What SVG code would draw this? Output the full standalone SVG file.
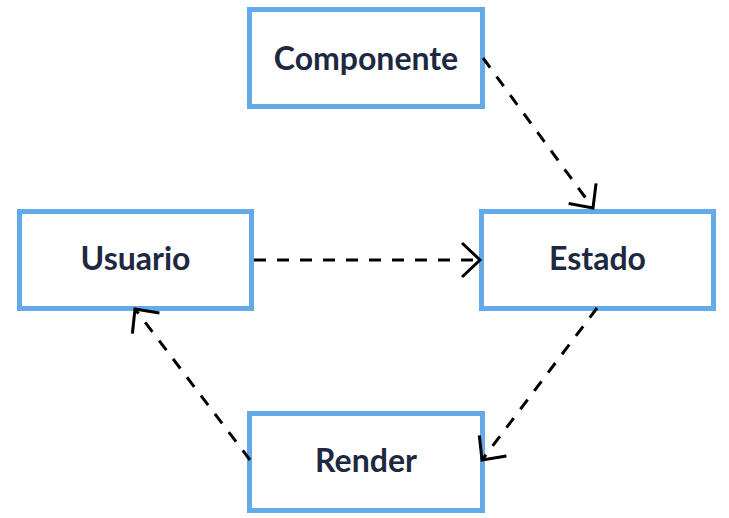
<svg xmlns="http://www.w3.org/2000/svg" width="729" height="518" viewBox="0 0 729 518">
  <style>
    .box { fill: #ffffff; stroke: #64aae8; stroke-width: 5; }
    .label { font-family: Lato, "Liberation Sans", sans-serif; font-weight: 700; font-size: 32px; fill: #1d2841; text-anchor: middle; }
    .edge { fill: none; stroke: #000000; stroke-width: 3; stroke-dasharray: 12 11; }
  </style>
  <defs>
    <marker id="arrow" markerUnits="userSpaceOnUse" markerWidth="40" markerHeight="40" viewBox="-22 -20 24 40" refX="0" refY="0" orient="auto">
      <path d="M -18 -17 L 0 0 L -18 17" fill="none" stroke="#000000" stroke-width="3"/>
    </marker>
  </defs>
  <rect width="729" height="518" fill="#ffffff"/>

  <g id="componente">
    <rect class="box" x="249.5" y="9.5" width="233" height="97"/>
    <text class="label" x="366" y="70">Componente</text>
  </g>
  <g id="usuario">
    <rect class="box" x="19.5" y="211.5" width="232" height="97"/>
    <text class="label" x="135.5" y="270">Usuario</text>
  </g>
  <g id="estado">
    <rect class="box" x="481.5" y="211.5" width="232" height="97"/>
    <text class="label" x="597.5" y="270">Estado</text>
  </g>
  <g id="render">
    <rect class="box" x="249.5" y="413.5" width="233" height="97"/>
    <text class="label" x="366" y="472">Render</text>
  </g>

  <g id="connectors">
    <path class="edge" d="M 483 58 L 593 208" marker-end="url(#arrow)"/>
    <path class="edge" d="M 254 260 L 480 260" marker-end="url(#arrow)"/>
    <path class="edge" d="M 597 308 L 482 460" marker-end="url(#arrow)"/>
    <path class="edge" d="M 250 460 L 135 309" marker-end="url(#arrow)"/>
  </g>
</svg>
